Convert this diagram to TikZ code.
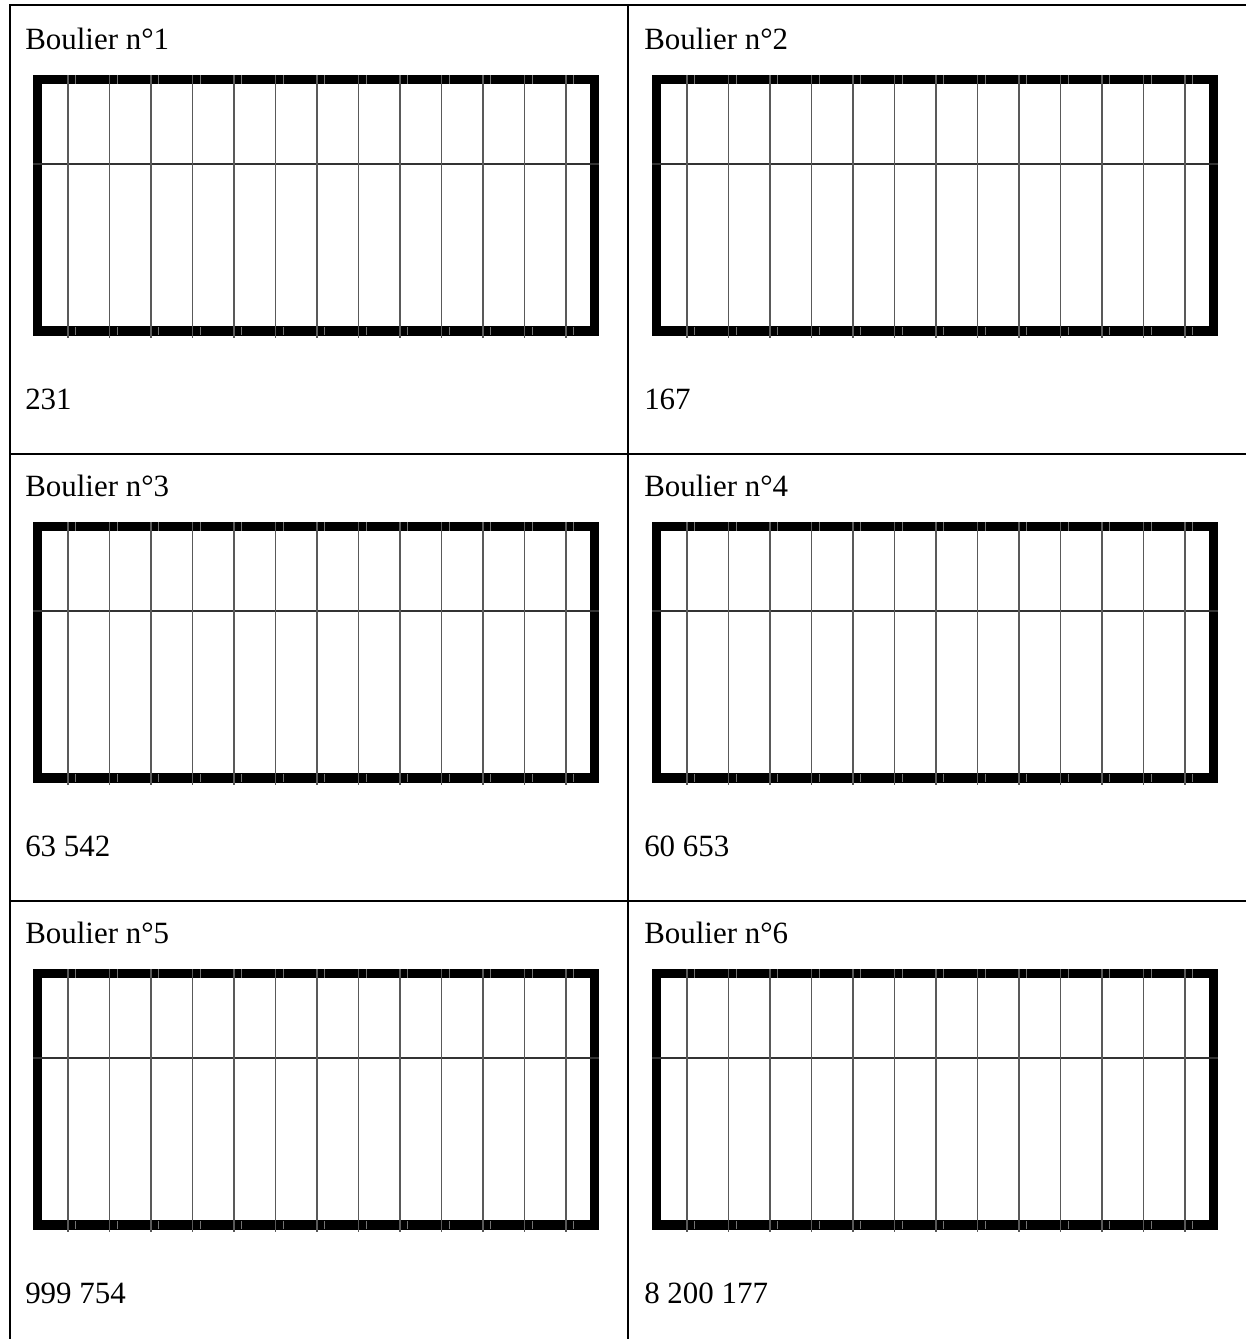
\documentclass[tikz,border=0pt]{standalone}
\usepackage{fontspec}
\setmainfont{Liberation Serif}
\begin{document}
\begin{tikzpicture}[x=0.75pt,y=-0.75pt,
  rule/.style={line width=1.5pt, line cap=rect},
  framebox/.style={line width=6.9pt, line join=miter},
  midbar/.style={draw=black!80, line width=1.6pt},
  rod/.style={draw=black!65, line width=1.1pt},
  tick/.style={draw=black!55, line width=0.5pt},
  label/.style={anchor=base west, inner sep=0pt, font=\fontsize{23.2pt}{27pt}\selectfont}]
\useasboundingbox (0,0) rectangle (1246,1339);
\fill[white] (0,0) rectangle (1246,1339);
% table grid
\draw[rule] (10,1339) -- (10,5) -- (1246,5);
\draw[rule] (628,5) -- (628,1339);
\draw[rule] (10,454) -- (1246,454);
\draw[rule] (10,901) -- (1246,901);
% cells
\foreach \c/\r/\n/\val in {0/0/1/231, 1/0/2/167, 0/1/3/{63 542}, 1/1/4/{60 653}, 0/2/5/{999 754}, 1/2/6/{8 200 177}}{
  \pgfmathsetmacro{\ox}{619*\c}
  \pgfmathsetmacro{\oy}{447*\r}
  \begin{scope}[shift={(\ox,\oy)}]
    \node[label] (title\n) at (25,49) {Boulier n°\n};
    \node[label] (value\n) at (25,409) {\val};
    \draw[framebox] (37.5,79.5) rectangle (594.5,331);
    \draw[midbar] (33,164) -- (599,164);
    \foreach \k in {0,...,12}{
      \pgfmathsetmacro{\xx}{68+41.5*\k}
      \draw[rod] (\xx,75) -- (\xx,338);
      \draw[tick] (\xx+7.5,75) -- (\xx+7.5,84);
      \draw[tick] (\xx+7.5,327) -- (\xx+7.5,335);
    }
  \end{scope}
}
\end{tikzpicture}
\end{document}
